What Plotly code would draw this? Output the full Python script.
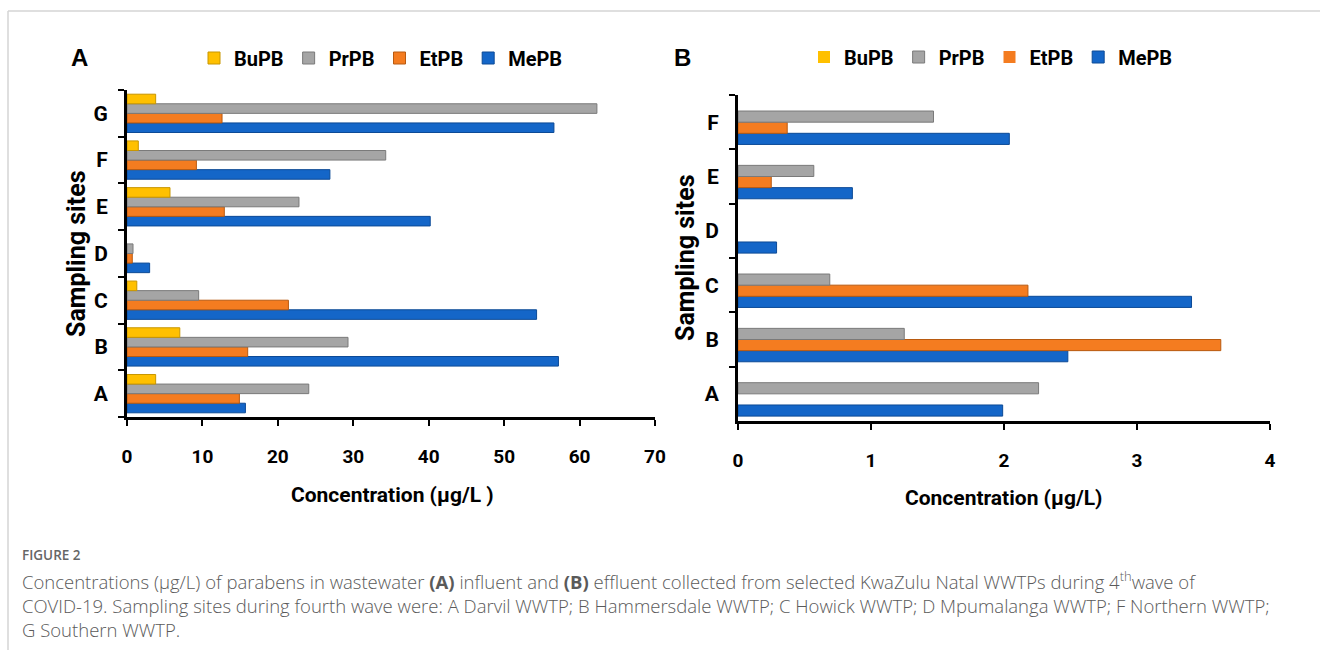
import plotly.graph_objects as go

sites_a = ["A", "B", "C", "D", "E", "F", "G"]
sites_b = ["A", "B", "C", "D", "E", "F"]
series = ["MePB", "EtPB", "PrPB", "BuPB"]
colors = {"BuPB": "#FFC000", "PrPB": "#A5A5A5", "EtPB": "#F47C20", "MePB": "#1466C8"}
edges = {"BuPB": "#C89600", "PrPB": "#7A7A7A", "EtPB": "#B85A10", "MePB": "#0C4A96"}

# Panel A (influent), values in µg/L, sites A..G
mepb_a = [15.7, 57.2, 54.3, 3.0, 40.2, 26.9, 56.6]
etpb_a = [14.9, 16.0, 21.4, 0.7, 12.9, 9.2, 12.6]
prpb_a = [24.1, 29.3, 9.5, 0.8, 22.8, 34.3, 62.3]
bupb_a = [3.8, 7.0, 1.3, 0.0, 5.7, 1.5, 3.8]

# Panel B (effluent), values in µg/L, sites A..F
mepb_b = [1.99, 2.48, 3.41, 0.29, 0.86, 2.04]
etpb_b = [0.0, 3.63, 2.18, 0.0, 0.25, 0.37]
prpb_b = [2.26, 1.25, 0.69, 0.0, 0.57, 1.47]
bupb_b = [0.0, 0.0, 0.0, 0.0, 0.0, 0.0]

ticks_a = [0, 10, 20, 30, 40, 50, 60, 70]
ticks_b = [0, 1, 2, 3, 4]

data_a = {"MePB": mepb_a, "EtPB": etpb_a, "PrPB": prpb_a, "BuPB": bupb_a}
data_b = {"MePB": mepb_b, "EtPB": etpb_b, "PrPB": prpb_b, "BuPB": bupb_b}

W, H = 1320, 650
def px(x):
    return x / W
def py(y):
    return 1 - y / H

BOLD = "Roboto, Arial, sans-serif"
CAP = "Open Sans, Noto Sans, sans-serif"

fig = go.Figure()
for key, sites, data, xa, ya, lg in [("a", sites_a, data_a, "x", "y", "legend"),
                                     ("b", sites_b, data_b, "x2", "y2", "legend2")]:
    for s in series:
        vals = data[s]
        fig.add_trace(go.Bar(
            y=sites, x=vals, orientation="h", name=s,
            marker=dict(color=colors[s],
                        line=dict(color=edges[s], width=[1 if v > 0 else 0 for v in vals])),
            xaxis=xa, yaxis=ya, legend=lg,
        ))

axis_common = dict(showline=True, linecolor="black", linewidth=3, showgrid=False,
                   zeroline=False, ticks="outside", tickcolor="black", tickwidth=2,
                   ticklen=6, automargin=False)
xfont = dict(family=BOLD, size=19, color="black", weight="bold")
yfont = dict(family=BOLD, size=21, color="black", weight="bold")
lfont = dict(family=BOLD, size=20, color="black", weight="bold")

fig.update_layout(
    width=W, height=H,
    margin=dict(l=0, r=0, t=0, b=0, pad=0, autoexpand=False),
    paper_bgcolor="white", plot_bgcolor="white",
    barmode="group", bargap=0.18, bargroupgap=0,
    xaxis=dict(domain=[px(127), px(655)], range=[0, 70], tickvals=ticks_a,
               anchor="y", ticklabelstandoff=14, tickfont=xfont, **axis_common),
    yaxis=dict(domain=[py(417), py(90)], type="category", categoryorder="array",
               categoryarray=sites_a, anchor="x", tickson="boundaries",
               ticklabelstandoff=12, tickfont=yfont, **axis_common),
    xaxis2=dict(domain=[px(738), px(1270)], range=[0, 4], tickvals=ticks_b,
                anchor="y2", ticklabelstandoff=14, tickfont=xfont, **axis_common),
    yaxis2=dict(domain=[py(421), py(95)], type="category", categoryorder="array",
                categoryarray=sites_b, anchor="x2", tickson="boundaries",
                ticklabelstandoff=12, tickfont=yfont, **axis_common),
    legend=dict(orientation="h", x=px(194), y=py(58), xanchor="left", yanchor="middle",
                traceorder="reversed", font=lfont, itemwidth=30, bgcolor="rgba(0,0,0,0)"),
    legend2=dict(orientation="h", x=px(804), y=py(57), xanchor="left", yanchor="middle",
                 traceorder="reversed", font=lfont, itemwidth=30, bgcolor="rgba(0,0,0,0)"),
    showlegend=True,
)

caption = ("Concentrations (μg/L) of parabens in wastewater <b>(A)</b> influent and <b>(B)</b> effluent "
           "collected from selected KwaZulu Natal WWTPs during 4<sup>th</sup>wave of<br>"
           "COVID-19. Sampling sites during fourth wave were: A Darvil WWTP; B Hammersdale WWTP; "
           "C Howick WWTP; D Mpumalanga WWTP; F Northern WWTP;<br>"
           "G Southern WWTP.")

anns = [
    dict(x=px(79), y=py(58), text="<b>A</b>", font=dict(family="Liberation Sans, Arial", size=24, color="black")),
    dict(x=px(682), y=py(57), text="<b>B</b>", font=dict(family="Liberation Sans, Arial", size=24, color="black")),
    dict(x=px(392), y=py(495), text="<b>Concentration (μg/L )</b>", font=dict(family=BOLD, size=21, color="black")),
    dict(x=px(1003), y=py(498), text="<b>Concentration (μg/L)</b>", font=dict(family=BOLD, size=21, color="black")),
    dict(x=px(76), y=py(254), text="<b>Sampling sites</b>", textangle=-90, font=dict(family=BOLD, size=25, color="black")),
    dict(x=px(685), y=py(258), text="<b>Sampling sites</b>", textangle=-90, font=dict(family=BOLD, size=25, color="black")),
    dict(x=px(20), y=py(555), text="FIGURE 2", xanchor="left",
         font=dict(family=CAP, size=13.5, color="#666666", weight=600)),
    dict(x=px(20), y=py(565), xanchor="left", yanchor="top", align="left", text=caption,
         font=dict(family=CAP, size=18.5, color="#5a5a5a", weight=300)),
]
for a in anns:
    a.setdefault("xref", "paper"); a.setdefault("yref", "paper")
    a.setdefault("showarrow", False)
    a.setdefault("xanchor", "center"); a.setdefault("yanchor", "middle")
    fig.add_annotation(**a)

fig.add_shape(type="line", xref="paper", yref="paper", x0=px(8), x1=1, y0=py(11), y1=py(11),
              line=dict(color="#D5D5D5", width=1.5))
fig.add_shape(type="line", xref="paper", yref="paper", x0=px(8), x1=px(8), y0=py(11), y1=0,
              line=dict(color="#D5D5D5", width=1.5))

fig.write_html(
    "out.html",
    config={"displayModeBar": False},
    post_script=("document.documentElement.style.overflow='hidden';"
                 "document.body.style.overflow='hidden';"
                 "document.body.style.margin='0px';"),
)
